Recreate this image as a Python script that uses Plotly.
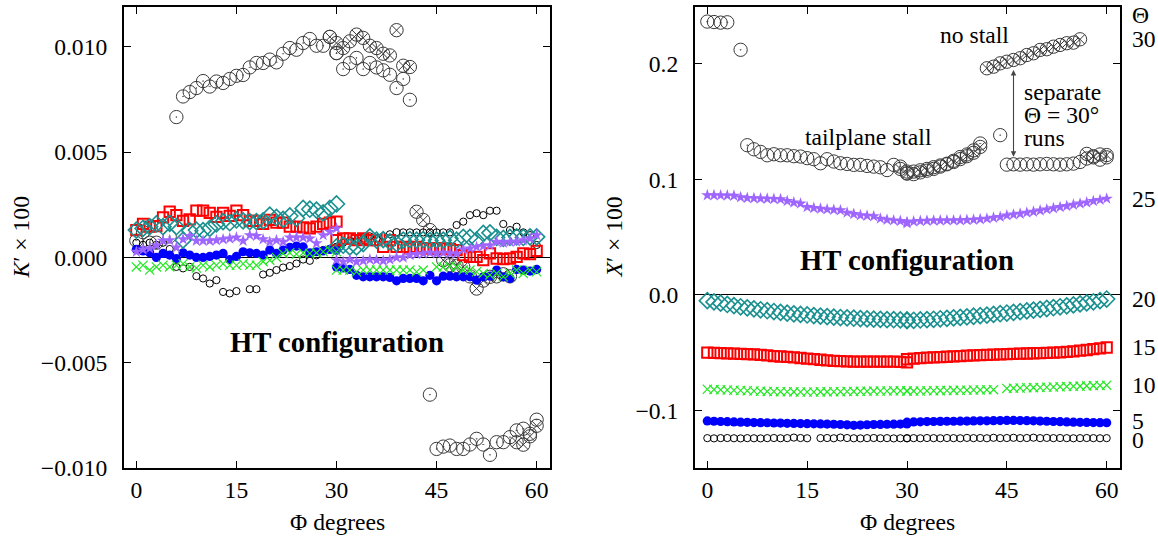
import plotly.graph_objects as go

# Layout is laid out in 1158 x 538 reference pixels; the figure itself is made a little
# taller and every vertical position is expressed as a paper fraction of that frame.
W, H_REF = 1158, 538
H = 552
S = H / H_REF

# ---------------- data ----------------
# Each Theta series was measured in two runs: Phi 0..30 and Phi 30..60
phi_run1 = list(range(0, 31))
phi_run2 = list(range(30, 61))

# Theta = 0
k_t0_r1 = [0.0007, 0.0006, 0.0007, 0.0006, 0.0007, 0.0004, -0.00045, -0.00052, -0.00045, -0.00089,
           -0.0010, -0.00124, -0.00108, -0.00164, -0.00171, -0.0016, None, -0.00151, -0.00151, -0.00081,
           -0.00073, -0.0006, -0.00048, -0.00041, -0.00029, -0.0001, -0.00016, 0.0001, 0.00035, 0.0004, 0.0005]
k_t0_r2 = [0.0005, 0.0007, 0.0008, 0.0008, 0.0009, 0.0010, 0.0009, 0.0010, 0.0011, 0.0012,
           0.00119, 0.00119, 0.00119, 0.00119, 0.00119, 0.00119, 0.00119, 0.00119, 0.00154, 0.0017,
           0.00201, 0.0021, 0.00201, 0.00222, 0.00222, 0.00159, 0.0013, 0.00146, 0.00119, 0.00106, 0.00059]
x_t0_r1 = [-0.1238, -0.1240, -0.1238, -0.1237, -0.1239, -0.1240, -0.1238, -0.1239, -0.1240, -0.1238,
           -0.1237, -0.1239, -0.1238, -0.1233, -0.1237, -0.1239, None, -0.1238, -0.1237, -0.1239,
           -0.1233, -0.1237, -0.1239, -0.1240, -0.1238, -0.1237, -0.1239, -0.1238, -0.1240, -0.1239, -0.1238]
x_t0_r2 = [-0.1240, -0.1238, -0.1239, -0.1237, -0.1238, -0.1239, -0.1237, -0.1238, -0.1239, -0.1236,
           -0.1238, -0.1237, -0.1239, -0.1235, -0.1238, -0.1237, -0.1235, -0.1238, -0.1237, -0.1234,
           -0.1238, -0.1236, -0.1238, -0.1237, -0.1238, -0.1239, -0.1238, -0.1237, -0.1238, -0.1239, -0.1238]

# Theta = 5
k_t5_r1 = [0.00038, 0.00031, 0.00022, 0.0, 0.00019, 0.00011, -0.00005, 0.00022, 0.00011, 0.0,
           0.0, 0.00005, 0.00011, 0.00019, -0.0001, 0.00005, 0.00027, 0.00022, 0.00019, 0.00011,
           0.00035, 0.00019, 0.00035, 0.00048, 0.00054, 0.0005, 0.00022, 0.00027, 0.00031, 0.00038, 0.00035]
k_t5_r2 = [-0.00045, -0.0005, -0.00057, -0.00085, -0.00092, -0.00092, -0.00092, -0.00092, -0.00095, -0.00111,
           -0.0010, -0.0010, -0.0010, -0.00111, -0.00085, -0.00111, -0.00089, -0.00089, -0.00092, -0.00092,
           -0.00092, -0.00108, -0.00092, -0.00089, -0.0006, -0.00092, -0.0010, -0.00057, -0.0006, -0.00065, -0.00057]
x_t5_r1 = [-0.1089, -0.1092, -0.1094, -0.1096, -0.1098, -0.1100, -0.1101, -0.1103, -0.1104, -0.1105,
           -0.1107, -0.1108, -0.1110, -0.1111, -0.1112, -0.1113, -0.1114, -0.1115, -0.1116, -0.1118,
           -0.1120, -0.1123, -0.1127, -0.1125, -0.1122, -0.1120, -0.1119, -0.1118, -0.1117, -0.1116, -0.1115]
x_t5_r2 = [-0.1100, -0.1098, -0.1097, -0.1095, -0.1094, -0.1093, -0.1092, -0.1092, -0.1091, -0.1090,
           -0.1089, -0.1088, -0.1088, -0.1087, -0.1086, -0.1085, -0.1085, -0.1086, -0.1087, -0.1088,
           -0.1090, -0.1092, -0.1094, -0.1096, -0.1098, -0.1100, -0.1101, -0.1102, -0.1103, -0.1104, -0.1105]

# Theta = 10
k_t10_r1 = [-0.00045, -0.00037, -0.0006, -0.00045, -0.00037, -0.00045, -0.00037, -0.0003, -0.00045, -0.0005,
            -0.00037, -0.00045, -0.00037, -0.0003, -0.00037, -0.00037, -0.0003, -0.00037, -0.00037, -0.0002,
            -0.00013, 0.0, 0.00019, 0.00022, 0.00016, 0.00022, 0.00019, 0.00022, 0.00027, 0.00035, 0.00027]
k_t10_r2 = [-0.0006, -0.0006, -0.0006, -0.00068, -0.0006, -0.0006, -0.0006, -0.0006, -0.0006, -0.0006,
            -0.0006, -0.0006, -0.00068, -0.0006, None, -0.00045, -0.00045, -0.00042, -0.00045, -0.0006,
            -0.0006, -0.00068, -0.00076, -0.00083, -0.00076, -0.00092, -0.00076, -0.0006, -0.00076, -0.0006, -0.00068]
x_t10_r1 = [-0.0815, -0.0818, -0.0820, -0.0822, -0.0824, -0.0826, -0.0828, -0.0830, -0.0832, -0.0834,
            -0.0835, -0.0836, -0.0837, -0.0838, -0.0839, -0.0839, -0.0839, -0.0838, -0.0838, -0.0837,
            -0.0836, -0.0835, -0.0834, -0.0833, -0.0832, -0.0831, -0.0830, -0.0830, -0.0829, -0.0829, -0.0828]
x_t10_r2 = [-0.0832, -0.0831, -0.0830, -0.0829, -0.0828, -0.0827, -0.0826, -0.0825, -0.0824, -0.0823,
            -0.0822, -0.0821, -0.0820, -0.0819, None, -0.0808, -0.0806, -0.0804, -0.0802, -0.0801,
            -0.0800, -0.0798, -0.0796, -0.0794, -0.0792, -0.0790, -0.0788, -0.0786, -0.0784, -0.0782, -0.0780]

# Theta = 15
k_t15_r1 = [0.0013, 0.00159, 0.00146, 0.00149, 0.0019, 0.00217, 0.00201, 0.00174, 0.00181, 0.00222,
            0.00222, 0.00212, 0.00193, 0.00212, 0.00197, 0.00222, 0.00201, 0.00174, 0.00174, 0.00159,
            0.00178, 0.00165, 0.00165, 0.00146, 0.00146, 0.00143, 0.00138, 0.00146, 0.00159, 0.00165, 0.0017]
k_t15_r2 = [0.00082, 0.0009, 0.0009, 0.00082, 0.0009, 0.00082, 0.00082, 0.0005, 0.00082, 0.0005,
            0.0005, 0.00043, 0.0005, 0.00043, 0.00043, 0.00043, 0.00043, 0.0004, 0.00035, 0.00011,
            0.00003, 0.00003, -0.00013, 0.00019, -0.00005, -0.00008, -0.00005, 0.00003, 0.00019, 0.00016, 0.00031]
x_t15_r1 = [-0.0498, -0.0500, -0.0502, -0.0505, -0.0507, -0.0509, -0.0511, -0.0513, -0.0518, -0.0523,
            -0.0528, -0.0532, -0.0536, -0.0540, -0.0545, -0.0550, -0.0555, -0.0560, -0.0565, -0.0569,
            -0.0572, -0.0575, -0.0576, -0.0577, -0.0577, -0.0577, -0.0577, -0.0577, -0.0577, -0.0578, -0.0582]
x_t15_r2 = [-0.0556, -0.0550, -0.0546, -0.0542, -0.0540, -0.0537, -0.0534, -0.0531, -0.0528, -0.0525,
            -0.0522, -0.0520, -0.0518, -0.0516, -0.0514, -0.0512, -0.0510, -0.0508, -0.0506, -0.0504,
            -0.0503, -0.0501, -0.0499, -0.0496, -0.0492, -0.0487, -0.0482, -0.0476, -0.0469, -0.0462, -0.0454]

# Theta = 20
k_t20_r1 = [0.0013, 0.00138, 0.00146, 0.00159, 0.00146, 0.00162, 0.00146, 0.00082, 0.00127, 0.0013,
            0.00127, 0.00138, 0.00159, 0.0017, 0.00165, 0.00178, 0.00174, 0.0017, 0.0017, 0.00174,
            0.00201, 0.0019, 0.00181, 0.00197, 0.00186, 0.00233, 0.00229, 0.00225, 0.00212, 0.00233, 0.00254]
k_t20_r2 = [0.0005, 0.00058, 0.0005, 0.0005, 0.00066, 0.00098, 0.00082, 0.00085, 0.00074, 0.00066,
            0.00082, 0.00085, 0.00082, 0.00085, 0.0008, 0.00082, 0.00082, 0.0009, 0.00082, 0.00095,
            0.00095, 0.00082, 0.00114, 0.00117, 0.00095, 0.0009, 0.00095, 0.00098, 0.00095, 0.00098, 0.00098]
x_t20_r1 = [-0.0049, -0.0060, -0.0071, -0.0082, -0.0092, -0.0102, -0.0111, -0.0120, -0.0128, -0.0136,
            -0.0143, -0.0150, -0.0157, -0.0163, -0.0168, -0.0173, -0.0178, -0.0183, -0.0187, -0.0191,
            -0.0195, -0.0198, -0.0201, -0.0204, -0.0207, -0.0209, -0.0211, -0.0213, -0.0214, -0.0215, -0.0216]
x_t20_r2 = [-0.0222, -0.0219, -0.0216, -0.0213, -0.0210, -0.0206, -0.0202, -0.0198, -0.0194, -0.0189,
            -0.0184, -0.0179, -0.0174, -0.0168, -0.0162, -0.0156, -0.0150, -0.0144, -0.0138, -0.0131,
            -0.0124, -0.0117, -0.0110, -0.0102, -0.0094, -0.0086, -0.0077, -0.0068, -0.0059, -0.0049, -0.0035]

# Theta = 25
k_t25_r1 = [0.00027, 0.00038, 0.00043, 0.00058, 0.00079, 0.00082, 0.00047, 0.00086, 0.00102, 0.00079,
            0.00079, 0.00079, 0.00082, 0.00086, 0.0009, 0.00095, 0.00079, 0.00106, 0.00102, 0.00086,
            0.00074, 0.00082, 0.00074, 0.00095, 0.00095, 0.00095, 0.0009, 0.00067, 0.00106, 0.00122, 0.00138]
k_t25_r2 = [-0.00013, -0.00021, -0.0001, -0.00021, -0.00016, -0.0001, -0.00013, -0.00016, -0.0001, 0.0,
            0.0, 0.00011, 0.00016, 0.00019, 0.00022, 0.00019, 0.00022, 0.00019, 0.00019, 0.00038,
            0.00043, 0.0005, 0.00054, 0.00058, 0.00074, 0.00069, 0.00074, 0.00074, 0.00082, 0.0009, 0.00106]
x_t25_r1 = [0.0862, 0.0862, 0.0861, 0.0860, 0.0858, 0.0845, 0.0838, 0.0836, 0.0834, 0.0832,
            0.0830, 0.0828, 0.0812, 0.0800, 0.0790, 0.0760, 0.0752, 0.0745, 0.0740, 0.0736,
            0.0732, 0.0712, 0.0700, 0.0690, 0.0685, 0.0680, 0.0660, 0.0650, 0.0645, 0.0640, 0.0630]
x_t25_r2 = [0.0620, 0.0635, 0.0640, 0.0642, 0.0643, 0.0644, 0.0645, 0.0645, 0.0646, 0.0648,
            0.0650, 0.0655, 0.0660, 0.0668, 0.0675, 0.0688, 0.0695, 0.0703, 0.0712, 0.0720,
            0.0730, 0.0740, 0.0750, 0.0760, 0.0770, 0.0780, 0.0790, 0.0800, 0.0812, 0.0822, 0.0833]

# Theta = 30, main runs (tailplane stalls at Phi ~ 6)
phi_t30a = [0, 1, 2, 3, 5] + list(range(6, 31)) + list(range(30, 42)) + list(range(44, 61))
k_t30a = ([0.0008, 0.0012, 0.0007, 0.0007, 0.0010]
          + [0.00667, 0.00765, 0.00786, 0.00805, 0.00838, 0.00812, 0.00836, 0.00829, 0.00848, 0.00863,
             0.00867, 0.00903, 0.00924, 0.00924, 0.0094, 0.00927, 0.00968, 0.00995, 0.00987, 0.01019,
             0.01038, 0.01006, 0.01006, 0.01048, 0.00971]
          + [0.00971, 0.00895, 0.00924, 0.00948, 0.00895, 0.00924, 0.00903, 0.00889, 0.00868, 0.00805,
             0.00848, 0.00749]
          + [-0.00652, -0.0091, -0.00899, -0.00894, -0.0091, -0.0091, -0.00889, -0.00862, -0.00889,
             -0.00938, -0.00878, -0.00878, -0.00854, -0.00822, -0.00814, -0.00838, -0.00771])
x_t30a = ([0.2364, 0.2360, 0.2355, 0.2358, 0.2120]
          + [0.1295, 0.1260, 0.1237, 0.1208, 0.1217, 0.1208, 0.1208, 0.1200, 0.1197, 0.1183,
             0.1174, 0.1139, 0.1174, 0.1154, 0.1139, 0.1133, 0.1125, 0.1125, 0.1116, 0.1110,
             0.1104, 0.1080, 0.1125, 0.1110, 0.1067]
          + [0.1052, 0.1067, 0.1078, 0.1090, 0.1105, 0.1120, 0.1135, 0.1160, 0.1193, 0.1215,
             0.1250, 0.1310]
          + [0.1382, 0.1127, 0.1130, 0.1127, 0.1130, 0.1127, 0.1130, 0.1133, 0.1130, 0.1127,
             0.1130, 0.1136, 0.1150, 0.1180, 0.1190, 0.1170, 0.1190])

# Theta = 30, separate runs (no stall from Phi 42 to 56)
phi_t30b = list(range(29, 61))
k_t30b = [0.01048, 0.01019, 0.00995, 0.01027, 0.01059, 0.01043, 0.01006, 0.00995, 0.00968, 0.0096,
          0.0108, 0.00911, 0.00905,
          0.00217, 0.00178, 0.0013, 0.0004, -0.00013, -0.00037, -0.0004, -0.00045, -0.0009, -0.00148,
          -0.0011, -0.00092, -0.0009, -0.0008, -0.0009,
          -0.00878, -0.0089, -0.0085, -0.0080]
x_t30b = [0.1090, 0.1050, 0.1045, 0.1060, 0.1075, 0.1090, 0.1110, 0.1130, 0.1150, 0.1175,
          0.1200, 0.1230, 0.1280,
          0.1960, 0.1974, 0.2003, 0.2017, 0.2032, 0.2047, 0.2075, 0.2090, 0.2119, 0.2125, 0.2147,
          0.2162, 0.2177, 0.2182, 0.2211,
          0.1220, 0.1200, 0.1215, 0.1210]

theta_labels = ["0", "5", "10", "15", "20", "25", "30"]

# ---------------- styles ----------------
FONT = "Liberation Serif"
BLACK = "#000000"
GREY = "#3a3a3a"

def sz(v):
    return round(v * S, 1)

styles = {
    "0": dict(symbol="circle-open", size=sz(7), color=BLACK, line=dict(width=1, color=BLACK)),
    "5": dict(symbol="circle", size=sz(9), color="#0000ff", line=dict(width=0)),
    "10": dict(symbol="x-thin-open", size=sz(9), color="#22e822", line=dict(width=1.2, color="#22e822")),
    "15": dict(symbol="square-open", size=sz(10), color="#ff0000", line=dict(width=2, color="#ff0000")),
    "20": dict(symbol="diamond-open", size=sz(12), color="#1a9090", line=dict(width=1.6, color="#1a9090")),
    "25": dict(symbol="star", size=sz(9), color="#9f66ff", line=dict(width=0)),
}
style_30a = dict(symbol="circle-open-dot", size=sz(13), color=GREY, line=dict(width=1, color=GREY))
style_30b = dict(symbol="circle-x-open", size=sz(13), color=GREY, line=dict(width=1, color=GREY))

series = {
    "0": (k_t0_r1 + k_t0_r2, x_t0_r1 + x_t0_r2),
    "5": (k_t5_r1 + k_t5_r2, x_t5_r1 + x_t5_r2),
    "10": (k_t10_r1 + k_t10_r2, x_t10_r1 + x_t10_r2),
    "15": (k_t15_r1 + k_t15_r2, x_t15_r1 + x_t15_r2),
    "20": (k_t20_r1 + k_t20_r2, x_t20_r1 + x_t20_r2),
    "25": (k_t25_r1 + k_t25_r2, x_t25_r1 + x_t25_r2),
}
phi_all = phi_run1 + phi_run2

fig = go.Figure()

# Theta = 30 runs drawn first, underneath the smaller markers
for xa, ya in (("x", "y"), ("x2", "y2")):
    fig.add_trace(go.Scatter(x=phi_t30a, y=k_t30a if ya == "y" else x_t30a, mode="markers",
                             marker=style_30a, xaxis=xa, yaxis=ya, showlegend=False))
    fig.add_trace(go.Scatter(x=phi_t30b, y=k_t30b if ya == "y" else x_t30b, mode="markers",
                             marker=style_30b, xaxis=xa, yaxis=ya, showlegend=False))

for th in ["0", "5", "10", "15", "20", "25"]:
    kv, xv = series[th]
    fig.add_trace(go.Scatter(x=phi_all, y=kv, mode="markers", marker=styles[th],
                             xaxis="x", yaxis="y", showlegend=False))
    fig.add_trace(go.Scatter(x=phi_all, y=xv, mode="markers", marker=styles[th],
                             xaxis="x2", yaxis="y2", showlegend=False))

# ---------------- axes ----------------
def px_x(p):
    return p / W

def px_y(p):
    return 1 - p / H_REF

tick_font = dict(family=FONT, size=sz(23), color=BLACK)
common_x = dict(range=[-1.85, 62.0], tickvals=[0, 15, 30, 45, 60], ticks="inside", ticklen=7,
                tickwidth=1, tickcolor=BLACK, showline=True, linewidth=2, linecolor=BLACK,
                mirror="ticks", showgrid=False, zeroline=False, tickfont=tick_font,
                ticklabelstandoff=0)
common_y = dict(ticks="inside", ticklen=7, tickwidth=1, tickcolor=BLACK, showline=True,
                linewidth=2, linecolor=BLACK, mirror="ticks", showgrid=False,
                zeroline=True, zerolinecolor=BLACK, zerolinewidth=1, tickfont=tick_font,
                ticklabelstandoff=10)

k_ticks = [-0.010, -0.005, 0.0, 0.005, 0.010]
k_ticktext = ["\u22120.010", "\u22120.005", "0.000", "0.005", "0.010"]
x_ticks = [-0.1, 0.0, 0.1, 0.2]
x_ticktext = ["\u22120.1", "0.0", "0.1", "0.2"]

fig.update_layout(
    width=W, height=H, autosize=False,
    margin=dict(l=0, r=0, t=0, b=0, pad=0),
    paper_bgcolor="white", plot_bgcolor="white",
    font=dict(family=FONT, color=BLACK),
    xaxis=dict(domain=[px_x(124), px_x(550)], anchor="y", **common_x),
    yaxis=dict(domain=[px_y(467), px_y(7)], anchor="x", range=[-0.0100, 0.0119],
               tickvals=k_ticks, ticktext=k_ticktext, **common_y),
    xaxis2=dict(domain=[px_x(695), px_x(1120)], anchor="y2", **common_x),
    yaxis2=dict(domain=[px_y(467), px_y(7)], anchor="x2", range=[-0.1495, 0.249],
                tickvals=x_ticks, ticktext=x_ticktext, **common_y),
)

ann = []
label_font = dict(family=FONT, size=sz(23), color=BLACK)

def paper_text(text, xp, yp, **kw):
    d = dict(text=text, x=px_x(xp), y=px_y(yp), xref="paper", yref="paper",
             xanchor="center", yanchor="middle", showarrow=False, font=label_font)
    d.update(kw)
    return d

# axis titles
ann.append(paper_text("<i>K</i>\u2032 \u00d7 100", 21, 237, textangle=-90))
ann.append(paper_text("<i>X</i>\u2032 \u00d7 100", 614, 237, textangle=-90))
for cx in (337, 907):
    ann.append(paper_text("\u03a6 degrees", cx, 521))

# configuration labels
bold_font = dict(family=FONT, size=sz(28), color=BLACK)
ann.append(dict(text="<b>HT configuration</b>", x=30, y=-0.00402, xref="x", yref="y",
                xanchor="center", yanchor="middle", showarrow=False, font=bold_font))
ann.append(dict(text="<b>HT configuration</b>", x=30, y=0.0305, xref="x2", yref="y2",
                xanchor="center", yanchor="middle", showarrow=False, font=bold_font))

# stall annotations
ann.append(dict(text="no stall", x=40.1, y=0.225, xref="x2", yref="y2", xanchor="center",
                yanchor="middle", showarrow=False, font=label_font))
ann.append(dict(text="tailplane stall", x=24.2, y=0.137, xref="x2", yref="y2", xanchor="center",
                yanchor="middle", showarrow=False, font=label_font))
for txt, yv in (("separate", 0.1755), ("\u0398 = 30\u00b0", 0.1555), ("runs", 0.1355)):
    ann.append(dict(text=txt, x=47.3, y=yv, xref="x2", yref="y2", xanchor="left", yanchor="middle",
                    showarrow=False, font=label_font))
ann.append(dict(x=46.0, y=0.1195, ax=46.0, ay=0.1958, xref="x2", yref="y2", axref="x2", ayref="y2",
                text="", showarrow=True, arrowhead=2, arrowside="end+start", arrowsize=1,
                arrowwidth=1.1, arrowcolor="#444444"))

# Theta labels on the right of the X' panel, at each series' final value
ann.append(paper_text("\u0398", 1130, 15, xanchor="left"))
end_vals = {
    "0": x_t0_r2[-1], "5": x_t5_r2[-1], "10": x_t10_r2[-1], "15": x_t15_r2[-1],
    "20": x_t20_r2[-1], "25": x_t25_r2[-1], "30": x_t30b[27],
}
shifts = {"0": -2, "5": 2, "10": 0, "15": 0, "20": 0, "25": 0, "30": 0}
for th in theta_labels:
    ann.append(dict(text=th, x=px_x(1130), y=end_vals[th], xref="paper", yref="y2", xanchor="left",
                    yanchor="middle", yshift=shifts[th], showarrow=False, font=label_font))

fig.update_layout(annotations=ann)
fig.write_html("out.html")
